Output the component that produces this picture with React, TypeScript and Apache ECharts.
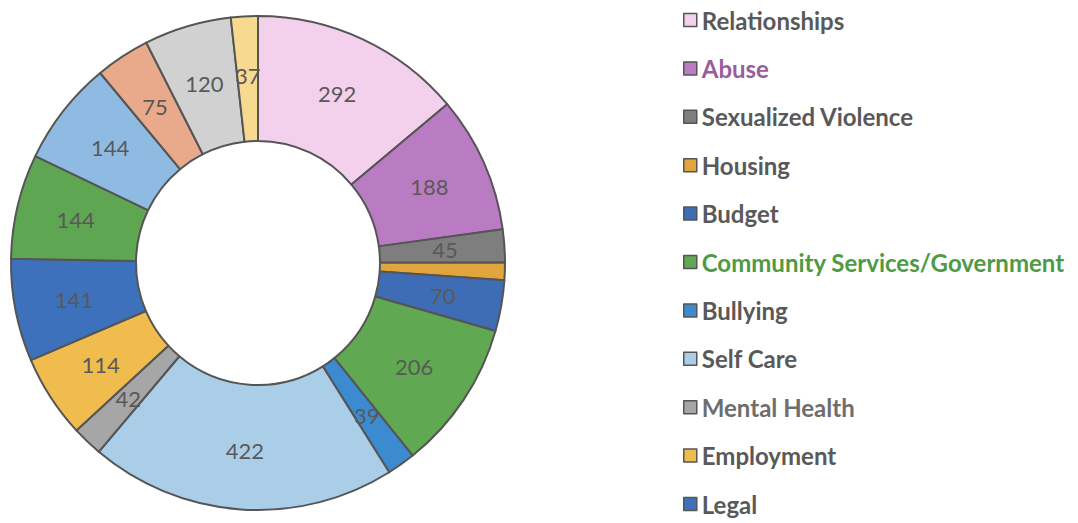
import React, { useEffect, useRef } from "react";
import * as echarts from "echarts";

const categories = [
  "Relationships",
  "Abuse",
  "Sexualized Violence",
  "Housing",
  "Budget",
  "Community Services/Government",
  "Bullying",
  "Self Care",
  "Mental Health",
  "Employment",
  "Legal",
  "Category 12",
  "Category 13",
  "Category 14",
  "Category 15",
  "Category 16",
];
const values = [292, 188, 45, 24, 70, 206, 39, 422, 42, 114, 141, 144, 144, 75, 120, 37];
const colors = [
  "#F3D0EC",
  "#B97BC2",
  "#7E7E7E",
  "#E0A53C",
  "#3E6DB5",
  "#60A851",
  "#3C8AD0",
  "#AACDE8",
  "#A6A6A6",
  "#F1BC4E",
  "#3D71BB",
  "#5FA653",
  "#8FBBE3",
  "#E9A98B",
  "#D1D1D1",
  "#F8D990",
];
const legendNames = categories.slice(0, 11);
const legendTextColors: Record<string, string> = {
  Abuse: "#9A5C9E",
  "Community Services/Government": "#4F9A45",
  "Mental Health": "#6E6E6E",
};

export default function App() {
  const ref = useRef<HTMLDivElement>(null);
  useEffect(() => {
    document.body.style.margin = "0";
    if (!ref.current) return;
    const chart = echarts.init(ref.current, null, { renderer: "svg" });
    chart.setOption({
      animation: false,
      backgroundColor: "#ffffff",
      legend: {
        orient: "vertical",
        left: 683,
        top: 8,
        height: 515,
        padding: 0,
        itemWidth: 13,
        itemHeight: 13,
        itemGap: 24.4,
        icon: "rect",
        itemStyle: { borderColor: "#555555", borderWidth: 1.5 },
        textStyle: {
          fontFamily: "Lato",
          fontSize: 24,
          fontWeight: "bold",
          color: "#595959",
          lineHeight: 22,
        },
        data: legendNames.map((n) => ({
          name: n,
          textStyle: legendTextColors[n] ? { color: legendTextColors[n] } : undefined,
        })),
      },
      series: [
        {
          type: "pie",
          center: [258, 263],
          radius: [122, 247],
          startAngle: 90,
          clockwise: true,
          avoidLabelOverlap: false,
          label: {
            show: true,
            position: "inside",
            formatter: "{c}",
            fontFamily: "Lato",
            fontSize: 22,
            color: "#595959",
          },
          labelLine: { show: false },
          itemStyle: { borderColor: "#555555", borderWidth: 2 },
          emphasis: { disabled: true },
          data: categories.map((c, i) => ({
            name: c,
            value: values[i],
            itemStyle: { color: colors[i] },
          })),
        },
      ],
    });
    return () => chart.dispose();
  }, []);
  return <div ref={ref} style={{ width: 1078, height: 523 }} />;
}
